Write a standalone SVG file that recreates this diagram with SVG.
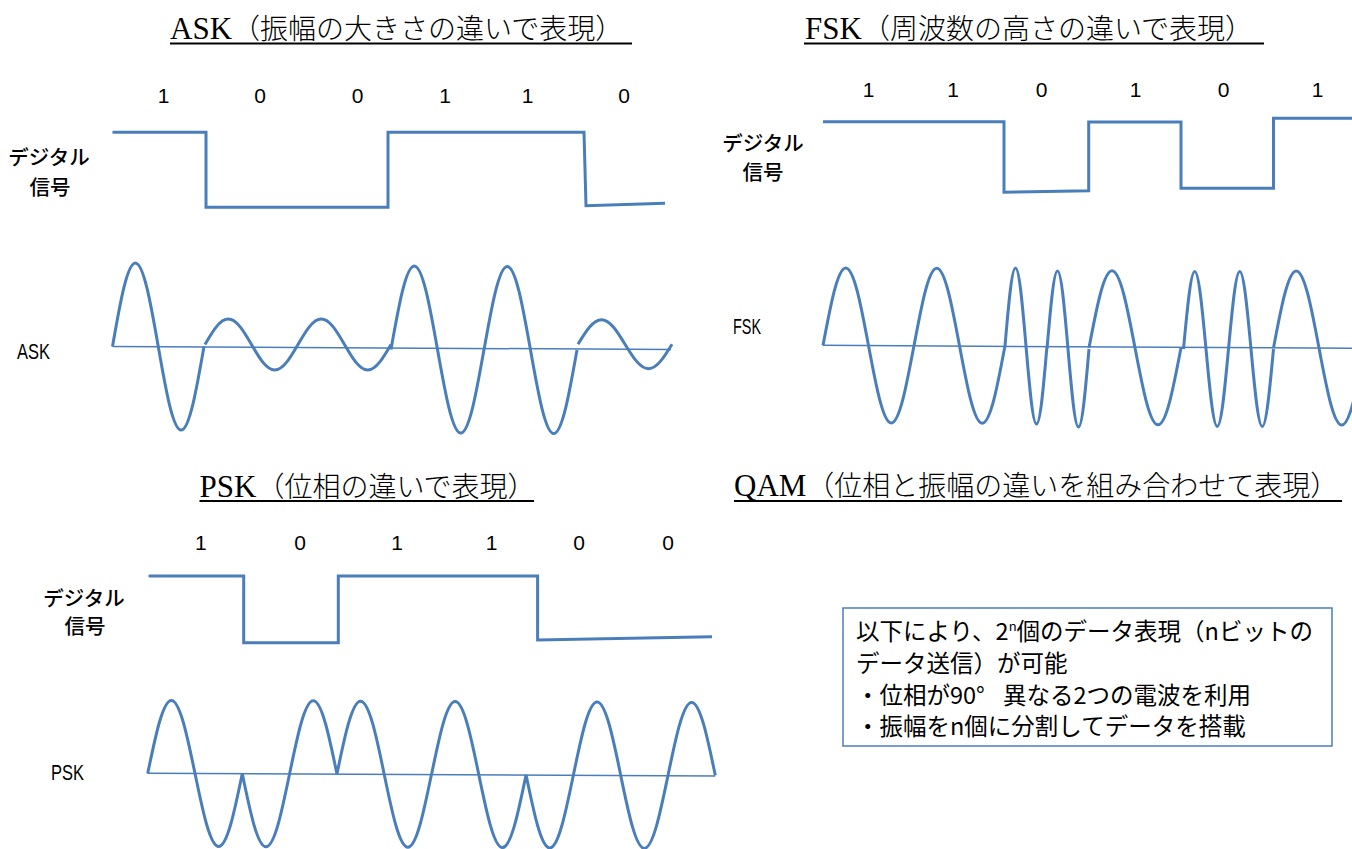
<svg xmlns="http://www.w3.org/2000/svg" width="1352" height="849" viewBox="0 0 1352 849">
<style>
.title{font-family:"Liberation Serif","Noto Sans CJK JP",serif;font-size:28px;font-weight:300;fill:#000}
.tl{font-size:31px;font-weight:400}
.ul{stroke:#000;stroke-width:2}
.bit{font-family:"Liberation Sans",Arial,sans-serif;font-size:21px;fill:#000;text-anchor:middle}
.lbl{font-family:"Noto Sans CJK JP",sans-serif;font-size:20.5px;font-weight:500;fill:#000;text-anchor:middle}
.wl{font-family:"Liberation Sans",Arial,sans-serif;font-size:22px;fill:#000}
.sig{fill:none;stroke:#4A7EBB;stroke-width:3}
.wave{fill:none;stroke:#4A7EBB;stroke-width:3}
.axis{stroke:#4A7EBB;stroke-width:1.5}
.box{fill:#fff;stroke:#4A7EBB;stroke-width:1.5}
.qt{font-family:"Noto Sans CJK JP",sans-serif;font-size:23.5px;fill:#000}
</style>
<rect width="1352" height="849" fill="#fff"/>

<g id="ask">
<text class="title" x="170" y="39"><tspan class="tl">ASK</tspan>（振幅の大きさの違いで表現）</text>
<line class="ul" x1="170" y1="43.5" x2="632" y2="43.5"/>
<text class="bit" x="163.5" y="103.3">1</text>
<text class="bit" x="260" y="103.3">0</text>
<text class="bit" x="357.5" y="103.3">0</text>
<text class="bit" x="445" y="103.3">1</text>
<text class="bit" x="527.5" y="103.3">1</text>
<text class="bit" x="624" y="103.3">0</text>
<text class="lbl" x="49" y="164.8">デジタル</text>
<text class="lbl" x="50" y="194.8">信号</text>
<path class="sig" d="M112.5,132.3 H206 V207.3 H388 V132.3 H584 L586,205.7 L665,203.3"/>
<text class="wl" x="17" y="359" textLength="33" lengthAdjust="spacingAndGlyphs">ASK</text>
<line class="axis" x1="112.5" y1="346.5" x2="671" y2="349.5"/>
<path class="wave" d="M112.5,346.5 c7.46,-42.78 14.59,-83.5 22.875,-83.5 c8.28,0 15.42,40.72 22.875,83.5 c7.46,42.78 14.59,83.5 22.875,83.5 c8.28,0 15.42,-40.72 22.875,-83.5
M205,344.5 c7.58,-13.06 14.83,-25.5 23.25,-25.5 c8.42,0 15.67,12.44 23.25,25.5 c7.58,13.06 14.83,25.5 23.25,25.5 c8.42,0 15.67,-12.44 23.25,-25.5
M298,344.5 c7.58,-13.06 14.83,-25.5 23.25,-25.5 c8.42,0 15.67,12.44 23.25,25.5 c7.58,13.06 14.83,25.5 23.25,25.5 c8.42,0 15.67,-12.44 23.25,-25.5
M391,349.5 c7.58,-42.78 14.83,-83.5 23.25,-83.5 c8.42,0 15.67,40.72 23.25,83.5 c7.58,42.78 14.83,83.5 23.25,83.5 c8.42,0 15.67,-40.72 23.25,-83.5
M484,350 c7.58,-42.78 14.83,-83.5 23.25,-83.5 c8.42,0 15.67,40.72 23.25,83.5 c7.58,42.78 14.83,83.5 23.25,83.5 c8.42,0 15.67,-40.72 23.25,-83.5
M578,344.2 c7.66,-12.55 14.99,-24.5 23.5,-24.5 c8.51,0 15.84,11.95 23.5,24.5 c7.66,12.55 14.99,24.5 23.5,24.5 c8.51,0 15.84,-11.95 23.5,-24.5"/>
</g>

<g id="fsk">
<text class="title" x="805" y="39"><tspan class="tl">FSK</tspan>（周波数の高さの違いで表現）</text>
<line class="ul" x1="804" y1="43.5" x2="1264" y2="43.5"/>
<text class="bit" x="868.5" y="96.5">1</text>
<text class="bit" x="953" y="96.5">1</text>
<text class="bit" x="1041.5" y="96.5">0</text>
<text class="bit" x="1135.5" y="96.5">1</text>
<text class="bit" x="1223.5" y="96.5">0</text>
<text class="bit" x="1317.5" y="96.5">1</text>
<text class="lbl" x="763" y="151.4">デジタル</text>
<text class="lbl" x="763" y="179.9">信号</text>
<path class="sig" d="M823,121.7 H1004 V192.3 L1088.7,190.7 V122 H1181 V188.3 H1273.5 V118.3 H1352"/>
<text class="wl" x="733" y="334" textLength="28" lengthAdjust="spacingAndGlyphs">FSK</text>
<line class="axis" x1="823" y1="345.3" x2="1352" y2="348.3"/>
<path class="wave" d="M823,345.5 c7.42,-39.7 14.51,-77.5 22.75,-77.5 c8.24,0 15.33,37.8 22.75,77.5 c7.42,39.7 14.51,77.5 22.75,77.5 c8.24,0 15.33,-37.8 22.75,-77.5
M914,345.8 c7.42,-39.7 14.51,-77.5 22.75,-77.5 c8.24,0 15.33,37.8 22.75,77.5 c7.42,39.7 14.51,77.5 22.75,77.5 c8.24,0 15.33,-37.8 22.75,-77.5
M1005,346 c3.42,-39.96 6.7,-78 10.5,-78 c3.8,0 7.08,38.04 10.5,78 c3.42,39.96 6.7,78 10.5,78 c3.8,0 7.08,-38.04 10.5,-78
M1047,349 c3.42,-39.96 6.7,-78 10.5,-78 c3.8,0 7.08,38.04 10.5,78 c3.42,39.96 6.7,78 10.5,78 c3.8,0 7.08,-38.04 10.5,-78
M1089,347.8 c7.5,-39.45 14.67,-77 23,-77 c8.33,0 15.5,37.55 23,77 c7.5,39.45 14.67,77 23,77 c8.33,0 15.5,-37.55 23,-77
M1183.5,349 c3.67,-39.7 7.18,-77.5 11.25,-77.5 c4.07,0 7.58,37.8 11.25,77.5 c3.67,39.7 7.18,77.5 11.25,77.5 c4.07,0 7.58,-37.8 11.25,-77.5
M1228.5,349 c3.67,-39.7 7.18,-77.5 11.25,-77.5 c4.07,0 7.58,37.8 11.25,77.5 c3.67,39.7 7.18,77.5 11.25,77.5 c4.07,0 7.58,-37.8 11.25,-77.5
M1273.5,348 c7.42,-39.45 14.51,-77 22.75,-77 c8.24,0 15.33,37.55 22.75,77 c7.42,39.45 14.51,77 22.75,77 c8.24,0 15.33,-37.55 22.75,-77"/>
</g>

<g id="psk">
<text class="title" x="199.5" y="497"><tspan class="tl">PSK</tspan>（位相の違いで表現）</text>
<line class="ul" x1="199.5" y1="501" x2="534" y2="501"/>
<text class="bit" x="200.8" y="549.5">1</text>
<text class="bit" x="300" y="549.5">0</text>
<text class="bit" x="397" y="549.5">1</text>
<text class="bit" x="491.5" y="549.5">1</text>
<text class="bit" x="579" y="549.5">0</text>
<text class="bit" x="668" y="549.5">0</text>
<text class="lbl" x="84" y="606.4">デジタル</text>
<text class="lbl" x="85" y="633.9">信号</text>
<path class="sig" d="M148.6,576 H243.7 V642.7 H338.3 V576 H537.6 V640 L712,636.7"/>
<text class="wl" x="51" y="779.5" textLength="33" lengthAdjust="spacingAndGlyphs">PSK</text>
<line class="axis" x1="147.7" y1="773.3" x2="715.3" y2="776"/>
<path class="wave" d="M147.7,773.5 c7.71,-37.4 15.09,-73 23.65,-73 c8.56,0 15.94,35.6 23.65,73 c7.71,37.4 15.09,73 23.65,73 c8.56,0 15.94,-35.6 23.65,-73
M242.3,773.8 c7.71,37.4 15.09,73 23.65,73 c8.56,0 15.94,-35.6 23.65,-73 c7.71,-37.4 15.09,-73 23.65,-73 c8.56,0 15.94,35.6 23.65,73
M336.9,774.2 c7.71,-37.4 15.09,-73 23.65,-73 c8.56,0 15.94,35.6 23.65,73 c7.71,37.4 15.09,73 23.65,73 c8.56,0 15.94,-35.6 23.65,-73
M431.5,774.6 c7.71,-37.4 15.09,-73 23.65,-73 c8.56,0 15.94,35.6 23.65,73 c7.71,37.4 15.09,73 23.65,73 c8.56,0 15.94,-35.6 23.65,-73
M526.1,775 c7.71,37.4 15.09,73 23.65,73 c8.56,0 15.94,-35.6 23.65,-73 c7.71,-37.4 15.09,-73 23.65,-73 c8.56,0 15.94,35.6 23.65,73
M620.7,775.4 c7.71,37.4 15.09,73 23.65,73 c8.56,0 15.94,-35.6 23.65,-73 c7.71,-37.4 15.09,-73 23.65,-73 c8.56,0 15.94,35.6 23.65,73"/>
</g>

<g id="qam">
<text class="title" x="734" y="496"><tspan class="tl">QAM</tspan>（位相と振幅の違いを組み合わせて表現）</text>
<line class="ul" x1="734" y1="501" x2="1342" y2="501"/>
<rect class="box" x="843" y="608" width="489" height="138"/>
<text class="qt" x="856" y="640">以下により、2<tspan font-size="13" dy="-9">n</tspan><tspan dy="9">個のデータ表現（nビットの</tspan></text>
<text class="qt" x="856" y="672">データ送信）が可能</text>
<text class="qt" x="856" y="703.5">・位相が90° <tspan x="1003">異なる2つの電波を利用</tspan></text>
<text class="qt" x="856" y="735">・振幅をn個に分割してデータを搭載</text>
</g>
</svg>
